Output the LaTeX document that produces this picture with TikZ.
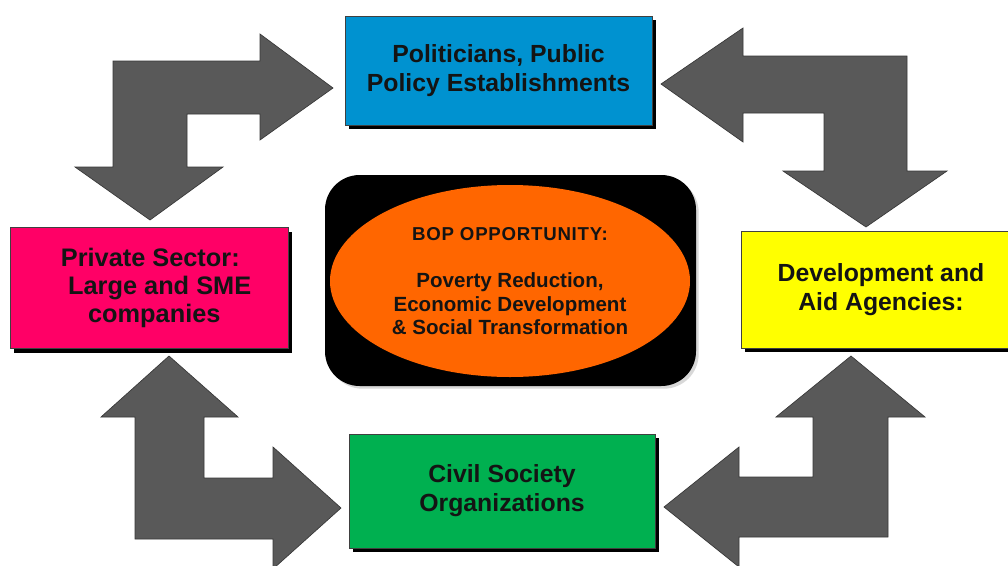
\documentclass[tikz,border=0pt]{standalone}
\usepackage{fontspec}
\setmainfont{Liberation Sans}
\usetikzlibrary{shapes.geometric,shadows}
\definecolor{polblue}{RGB}{0,146,208}
\definecolor{privpink}{RGB}{255,0,102}
\definecolor{aidyellow}{RGB}{255,255,0}
\definecolor{civgreen}{RGB}{0,176,80}
\definecolor{boporange}{RGB}{255,102,0}
\definecolor{arrowgray}{RGB}{89,89,89}
\definecolor{arrowedge}{RGB}{55,55,55}
\begin{document}
\begin{tikzpicture}[x=0.75pt,y=-0.75pt,
  blockarrow/.style={fill=arrowgray,draw=arrowedge,line width=0.5pt,line join=miter},
  panel/.style={rectangle,draw=black!75,line width=0.4pt,inner sep=0pt,align=center,
    text=black!92,font=\bfseries\fontsize{18.6}{21.8}\selectfont,
    drop shadow={shadow xshift=3pt,shadow yshift=-3pt,fill=black,opacity=1}},
  bodytext/.style={font=\bfseries\fontsize{15.4}{17.6}\selectfont}
]
\useasboundingbox (0,0) rectangle (1008,565);
\fill[white] (0,0) rectangle (1008,565);
\clip (0,0) rectangle (1008,565);

% bent block arrows linking the four groups
\draw[blockarrow] (113,167) -- (75,167) -- (150,220) -- (223,167) -- (187,167)
  -- (187,114) -- (260,114) -- (260,140) -- (333,88) -- (260,34) -- (260,61)
  -- (113,61) -- cycle;
\draw[blockarrow] (661,84) -- (743,28) -- (743,56) -- (907,56) -- (907,171)
  -- (947,171) -- (866,227) -- (783,171) -- (824,171) -- (824,113) -- (743,113)
  -- (743,142) -- cycle;
\draw[blockarrow] (169,356) -- (238,417) -- (204,417) -- (204,478) -- (273,478)
  -- (273,447) -- (341,508) -- (273,569) -- (273,539) -- (135,539) -- (135,417)
  -- (101,417) -- cycle;
\draw[blockarrow] (851,356) -- (925,417) -- (888,417) -- (888,537) -- (739,537)
  -- (739,567) -- (664,507) -- (739,447) -- (739,477) -- (813,477) -- (813,417)
  -- (776,417) -- cycle;

% stakeholder boxes
\node[panel,fill=polblue,minimum width=307*0.75pt,minimum height=109*0.75pt]
  (policy) at (498.5,70.5) {Politicians, Public\\Policy Establishments};
\node[panel,fill=privpink,minimum width=278*0.75pt,minimum height=121*0.75pt,
  font=\bfseries\fontsize{19}{21}\selectfont]
  (private) at (149,288) {\hspace*{2pt}Private Sector:\\\hspace*{16pt}Large and SME\\\hspace*{8pt}companies};
\node[panel,fill=aidyellow,minimum width=280*0.75pt,minimum height=117*0.75pt]
  (aid) at (881,289.5) {Development and\\Aid Agencies:};
\node[panel,fill=civgreen,minimum width=306*0.75pt,minimum height=114*0.75pt]
  (civil) at (502,491) {Civil Society\\Organizations};

% central opportunity
\node[rectangle,rounded corners=26pt,fill=black,minimum width=371*0.75pt,
  minimum height=211*0.75pt,inner sep=0pt,
  drop shadow={shadow xshift=2pt,shadow yshift=-2pt,fill=black!25,opacity=0.6}]
  (bopframe) at (510.5,280.5) {};
\node[ellipse,fill=boporange,minimum width=360*0.75pt,minimum height=192*0.75pt,
  inner sep=0pt,align=center,text=black!92,bodytext]
  (bop) at (510,281) {{\fontsize{14}{16}\selectfont\addfontfeature{LetterSpace=4}BOP OPPORTUNITY:}\\[18pt]
  Poverty Reduction,\\Economic Development\\\& Social Transformation};
\end{tikzpicture}
\end{document}
